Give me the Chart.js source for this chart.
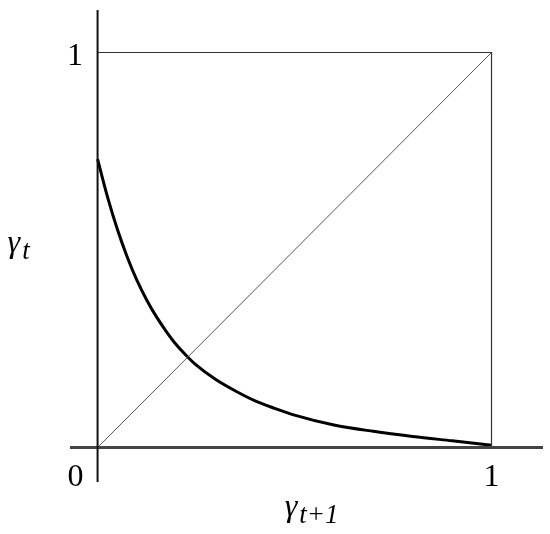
<!DOCTYPE html>
<html>
<head>
<meta charset="utf-8">
<script src="https://cdn.jsdelivr.net/npm/chart.js@4/dist/chart.umd.min.js"></script>
<style>
html,body{margin:0;padding:0;background:#fff;}
#wrap{width:550px;height:534px;}
</style>
</head>
<body>
<div id="wrap"><canvas id="c" width="550" height="534"></canvas></div>
<script>
// ---- data ----
const curveX = [0, 0.025, 0.05, 0.075, 0.1, 0.125, 0.15, 0.175, 0.2, 0.225, 0.25, 0.3, 0.35, 0.4, 0.45, 0.5, 0.6, 0.7, 0.8, 0.9, 1.0];
const curveY = [0.73, 0.635, 0.553, 0.483, 0.423, 0.373, 0.33, 0.293, 0.26, 0.233, 0.209, 0.172, 0.143, 0.118, 0.099, 0.082, 0.057, 0.041, 0.028, 0.017, 0.006];
const diagX = [0, 1];
const diagY = [0, 1];
const boxX = [0, 1, 1];
const boxY = [1, 1, 0];
const axisMin = { x: -0.07, y: -0.0873 };
const axisMax = { x: 1.1307, y: 1.1076 };
const tickLabels = { origin: '0', xOne: '1', yOne: '1' };
const xTitle = { main: 'γ', sub: 't+1' };
const yTitle = { main: 'γ', sub: 't' };

const pts = (xs, ys) => xs.map((x, i) => ({ x: x, y: ys[i] }));

const labelPlugin = {
  id: 'labels',
  afterDraw(chart) {
    const ctx = chart.ctx;
    const xs = chart.scales.x, ys = chart.scales.y;
    const x0 = xs.getPixelForValue(0), x1 = xs.getPixelForValue(1), xh = xs.getPixelForValue(0.5);
    const y0 = ys.getPixelForValue(0), y1 = ys.getPixelForValue(1), yh = ys.getPixelForValue(0.5);
    ctx.save();
    ctx.fillStyle = '#000';
    ctx.textBaseline = 'alphabetic';
    ctx.textAlign = 'center';
    ctx.font = '32px "Liberation Serif", serif';
    ctx.fillText(tickLabels.yOne, x0 - 22.5, y1 + 12.5);
    ctx.fillText(tickLabels.origin, x0 - 22, y0 + 38.5);
    ctx.fillText(tickLabels.xOne, x1, y0 + 38.5);

    function drawTitle(t, cx, base, alignLeft) {
      ctx.textAlign = 'left';
      ctx.font = 'italic 32px "Liberation Serif", serif';
      const w1 = ctx.measureText(t.main).width;
      ctx.font = 'italic 27px "Liberation Serif", serif';
      const w2 = ctx.measureText(t.sub).width;
      const left = alignLeft ? cx : cx - (w1 + w2 + 2) / 2;
      ctx.font = 'italic 32px "Liberation Serif", serif';
      ctx.fillText(t.main, left, base);
      ctx.font = 'italic 27px "Liberation Serif", serif';
      ctx.fillText(t.sub, left + w1 + 2, base + 7);
    }
    drawTitle(yTitle, x0 - 90, yh + 2, true);
    drawTitle(xTitle, xh + 17, y0 + 68, false);
    ctx.restore();
  }
};

new Chart(document.getElementById('c'), {
  type: 'scatter',
  data: {
    datasets: [
      { data: pts([0, 0], [axisMin.y, axisMax.y]), showLine: true, borderColor: '#111', borderWidth: 2, pointRadius: 0 },
      { data: pts([axisMin.x, axisMax.x], [0, 0]), showLine: true, borderColor: '#444', borderWidth: 3, pointRadius: 0 },
      { data: pts(boxX, boxY), showLine: true, borderColor: '#333', borderWidth: 1.2, pointRadius: 0 },
      { data: pts(diagX, diagY), showLine: true, borderColor: '#555', borderWidth: 1, pointRadius: 0 },
      { data: pts(curveX, curveY), showLine: true, borderColor: '#000', borderWidth: 3, pointRadius: 0, cubicInterpolationMode: 'monotone' }
    ]
  },
  options: {
    responsive: false,
    animation: false,
    layout: { padding: { left: 70, right: 7, top: 10, bottom: 52 } },
    plugins: { legend: { display: false }, tooltip: { enabled: false } },
    scales: {
      x: { type: 'linear', min: axisMin.x, max: axisMax.x, display: false },
      y: { type: 'linear', min: axisMin.y, max: axisMax.y, display: false }
    }
  },
  plugins: [labelPlugin]
});
</script>
</body>
</html>
